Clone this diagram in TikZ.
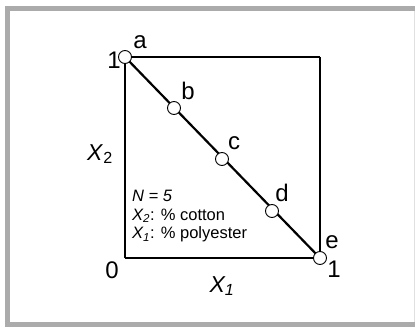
\documentclass[tikz,border=0pt]{standalone}
\usepackage{fontspec}
\setmainfont{Liberation Sans}
\usepackage{tikz}
\usetikzlibrary{positioning}

\begin{document}
\begin{tikzpicture}[x=1pt, y=-1pt,
  mixpt/.style={circle, draw, line width=0.9pt, fill=white, inner sep=0pt, minimum size=13pt},
  ptlabel/.style={font=\fontsize{24}{24}\selectfont, inner sep=0pt},
  edgethick/.style={line width=2.2pt},
  edgethin/.style={line width=1.1pt}]
\useasboundingbox (0,0) rectangle (415,329);
% grey frame, open on the right
\draw[line width=5pt, black!33] (416,8.5) -- (7,8.5) -- (7,324.5) -- (416,324.5);
\draw[line width=0.6pt, black!12] (414.5,11) -- (414.5,322);
% corners of the square
\coordinate (o) at (125,258);
\coordinate (tr) at (320,57);
\coordinate (tl) at (125,57);
\coordinate (br) at (320,258);
\draw[edgethin] (o) -- (tl);
\draw[edgethin] (tr) -- (br);
\draw[edgethick] (tl) -- (tr);
\draw[edgethick] (o) -- (br);
\draw[edgethick] (tl) -- (br);
% mixture points
\node[mixpt] (a) at (tl) {};
\node[mixpt] (b) at (174,108) {};
\node[mixpt] (c) at (222,159) {};
\node[mixpt] (d) at (272,211) {};
\node[mixpt] (e) at (br) {};
\node[ptlabel] (la) at (140,42) {a};
\node[ptlabel] (lb) at (188,91) {b};
\node[ptlabel] (lc) at (234,143) {c};
\node[ptlabel] (ld) at (282,193) {d};
\node[ptlabel] (le) at (332,242) {e};
% axis values and names
\node[ptlabel] (one2) at (114,60) {1};
\node[ptlabel] (one1) at (334,269) {1};
\node[ptlabel] (zero) at (112,270) {0};
\node[ptlabel, font=\fontsize{23}{23}\selectfont\itshape] (x1) at (222,286) {X\textsubscript{1}};
\node[ptlabel, font=\fontsize{23}{23}\selectfont] (x2) at (100,154) {\textit{X}\textsubscript{2}};
\node[anchor=north west, align=left, inner sep=0pt, font=\fontsize{16.5}{18.5}\selectfont] (key) at (132,190)
  {\textit{N = 5}\\
   \textit{X\textsubscript{2}}: \% cotton\\
   \textit{X\textsubscript{1}}: \% polyester};
\end{tikzpicture}
\end{document}
